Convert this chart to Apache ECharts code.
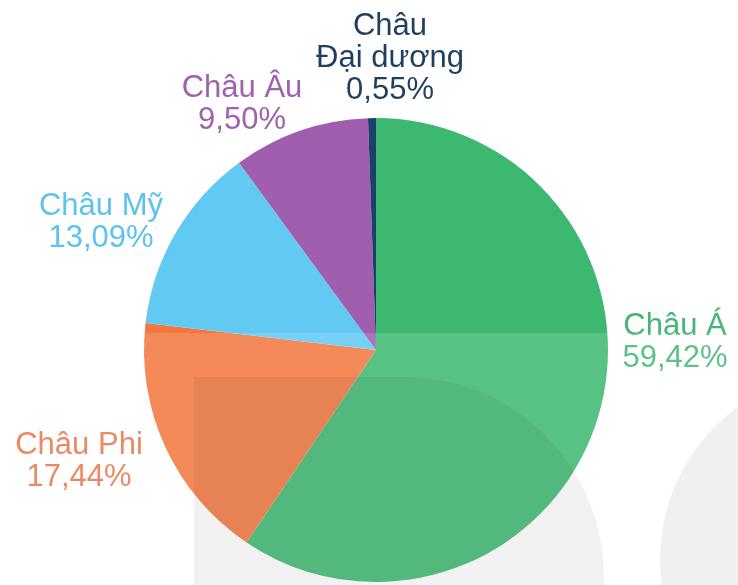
<!DOCTYPE html>
<html>
<head>
<meta charset="utf-8">
<script src="https://cdn.jsdelivr.net/npm/echarts@6/dist/echarts.min.js"></script>
<style>
  html, body { margin: 0; padding: 0; background: #ffffff; }
  #chart { width: 738px; height: 585px; }
</style>
</head>
<body>
<div id="chart"></div>
<script>
// Continent share (percent)
const continents = ['Châu Á', 'Châu Phi', 'Châu Mỹ', 'Châu Âu', 'Châu Đại dương'];
const shares = [59.42, 17.44, 13.09, 9.50, 0.55];
const labelNames = ['Châu Á', 'Châu Phi', 'Châu Mỹ', 'Châu Âu', 'Châu\nĐại dương'];

const sliceColors = ['#3cb870', '#f3773f', '#62c9f3', '#a05eae', '#1c3f6e'];
const textColors = ['#45b676', '#e8764c', '#5cc3ee', '#a062ac', '#1f3f5e'];

// label centres, tuned against the picture
const labelSpots = [[675, 342], [79, 461], [101, 222], [242, 104], [390, 58]];

const chart = echarts.init(document.getElementById('chart'));

const pieData = continents.map((name, i) => ({
    name: name,
    value: shares[i],
    itemStyle: { color: sliceColors[i] },
    label: { color: textColors[i] }
}));

chart.setOption({
    animation: false,
    series: [{
        type: 'pie',
        center: [376, 350],
        radius: 232,
        startAngle: 90,
        clockwise: true,
        z: 2,
        itemStyle: { borderWidth: 0 },
        label: {
            show: true,
            position: 'outside',
            overflow: 'none',
            width: 200,
            fontFamily: '"Liberation Sans", Arial, sans-serif',
            fontSize: 31,
            lineHeight: 32,
            align: 'center',
            formatter: function(p) {
                return labelNames[p.dataIndex] + '\n' + p.value.toFixed(2).replace('.', ',') + '%';
            }
        },
        labelLine: { show: false },
        labelLayout: function(params) {
            const spot = labelSpots[params.dataIndex];
            return { x: spot[0], y: spot[1], align: 'center', verticalAlign: 'middle' };
        },
        emphasis: { disabled: true },
        data: pieData
    }],
    // faint background shapes seen through the lower half of the picture
    graphic: [
        {
            type: 'rect', z: 10, silent: true,
            shape: { x: 0, y: 333, width: 738, height: 252 },
            style: { fill: 'rgba(255,255,255,0.14)' }
        },
        {
            type: 'rect', z: 11, silent: true,
            shape: { x: 194, y: 377, width: 410, height: 260, r: [0, 200, 0, 0] },
            style: { fill: 'rgba(0,0,0,0.05)' }
        },
        {
            type: 'circle', z: 11, silent: true,
            shape: { cx: 850, cy: 560, r: 190 },
            style: { fill: 'rgba(0,0,0,0.06)' }
        }
    ]
});
</script>
</body>
</html>
